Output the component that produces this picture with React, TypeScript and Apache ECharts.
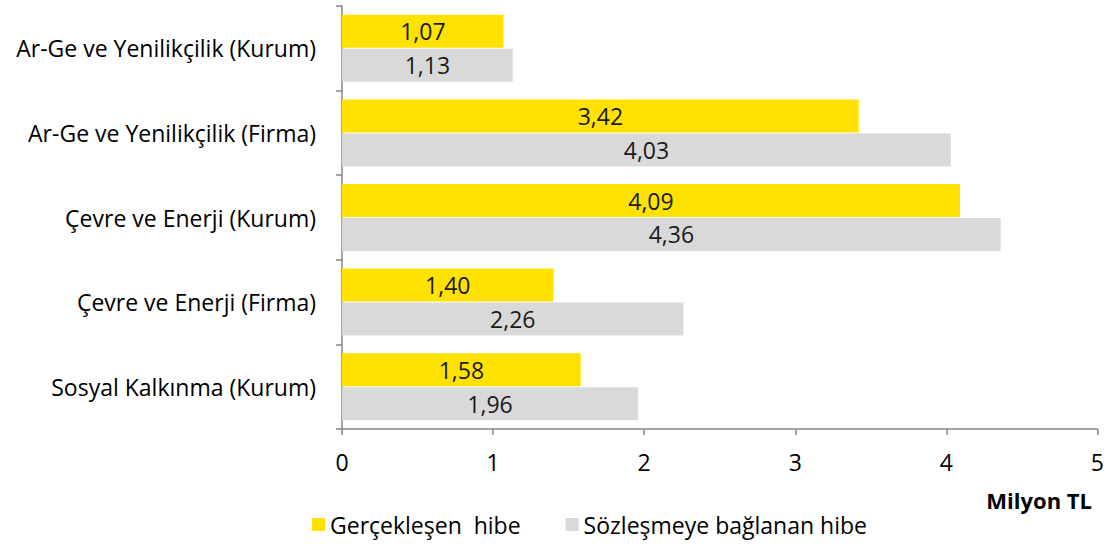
import React, { useEffect, useRef } from "react";
import * as echarts from "echarts";

const categories = [
  "Ar-Ge ve Yenilikçilik (Kurum)",
  "Ar-Ge ve Yenilikçilik (Firma)",
  "Çevre ve Enerji (Kurum)",
  "Çevre ve Enerji (Firma)",
  "Sosyal Kalkınma (Kurum)",
];
const realized = [1.07, 3.42, 4.09, 1.4, 1.58];
const contracted = [1.13, 4.03, 4.36, 2.26, 1.96];
const seriesNames = ["Gerçekleşen  hibe", "Sözleşmeye bağlanan hibe"];
const axisTitle = "Milyon TL";

const FONT = "'Open Sans'";
const FS = 23;

export default function App() {
  const ref = useRef<HTMLDivElement>(null);
  useEffect(() => {
    const chart = echarts.init(ref.current!, null, { renderer: "svg" });
    const fmt = (p: any) => Number(p.value).toFixed(2).replace(".", ",");
    chart.setOption({
      animation: false,
      textStyle: { fontFamily: FONT },
      grid: { left: 342, right: 8, top: 6, bottom: 115, containLabel: false },
      xAxis: {
        type: "value",
        min: 0,
        max: 5,
        interval: 1,
        axisLine: { show: true, lineStyle: { color: "#868686", width: 1.5 } },
        axisTick: { show: true, length: 6, lineStyle: { color: "#868686", width: 1.5 } },
        splitLine: { show: false },
        axisLabel: { fontSize: FS, color: "#000", margin: 21, fontFamily: FONT },
      },
      yAxis: {
        type: "category",
        inverse: true,
        data: categories,
        axisLine: { show: true, lineStyle: { color: "#868686", width: 1.5 } },
        axisTick: { show: true, length: 6, lineStyle: { color: "#868686", width: 1.5 } },
        axisLabel: { fontSize: FS, color: "#000", margin: 26, fontFamily: FONT },
      },
      legend: {
        left: 307,
        top: 508,
        itemWidth: 13,
        itemHeight: 13,
        itemGap: 45,
        icon: "rect",
        textStyle: { fontSize: FS, color: "#000", fontFamily: FONT },
        data: seriesNames,
      },
      graphic: [
        {
          type: "text",
          right: 15,
          top: 489,
          style: { text: axisTitle, font: `bold ${FS - 1}px ${FONT}`, fill: "#000" },
        },
      ],
      series: [
        {
          name: seriesNames[0],
          type: "bar",
          data: realized,
          barWidth: 33,
          barGap: "3%",
          itemStyle: { color: "#FFE200" },
          label: { show: true, position: "inside", formatter: fmt, fontSize: FS, color: "#1a1a1a", fontFamily: FONT },
        },
        {
          name: seriesNames[1],
          type: "bar",
          data: contracted,
          barWidth: 33,
          barGap: "3%",
          itemStyle: { color: "#D9D9D9" },
          label: { show: true, position: "inside", formatter: fmt, fontSize: FS, color: "#1a1a1a", fontFamily: FONT },
        },
      ],
    });
    return () => chart.dispose();
  }, []);
  return (
    <div
      ref={ref}
      style={{ position: "absolute", left: 0, top: 0, width: 1107, height: 544 }}
    />
  );
}
